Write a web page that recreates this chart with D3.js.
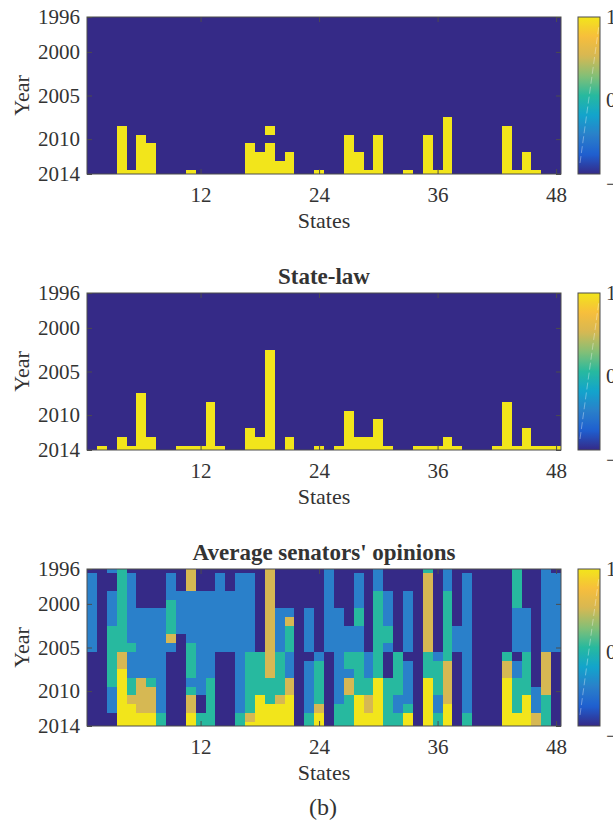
<!DOCTYPE html>
<html>
<head>
<meta charset="utf-8">
<script src="https://cdn.jsdelivr.net/npm/d3@7"></script>
<style>
  html, body { margin: 0; padding: 0; background: #fff; }
  svg { display: block; }
  text { font-family: "Liberation Serif", "Times New Roman", serif; fill: #333; }
</style>
</head>
<body>
<svg id="chart" width="613" height="825"></svg>
<script>
// ---- data -------------------------------------------------------------
const states = d3.range(1, 49);            // state index 1..48
const years = d3.range(1996, 2015);        // 1996..2014
const xTicks = [12, 24, 36, 48];
const yTicks = [1996, 2000, 2005, 2010, 2014];
const colorbarTicks = [-1, 0, 1];

// value of each code character
const binaryLevels = { "0": -1, "1": 1 };
const opinionLevels = { "0": -1, "1": -0.5, "2": 0, "3": 0.5, "4": 1 };

// one string per state, one character per year (1996 -> 2014)
const adoptionCols = [
  "0000000000000000000", "0000000000000000000", "0000000000000000000", "0000000000000111111",
  "0000000000000000001", "0000000000000011111", "0000000000000001111", "0000000000000000000",
  "0000000000000000000", "0000000000000000000", "0000000000000000001", "0000000000000000000",
  "0000000000000000000", "0000000000000000000", "0000000000000000000", "0000000000000000000",
  "0000000000000001111", "0000000000000000111", "0000000000000101111", "0000000000000000011",
  "0000000000000000111", "0000000000000000000", "0000000000000000000", "0000000000000000001",
  "0000000000000000000", "0000000000000000000", "0000000000000011111", "0000000000000000111",
  "0000000000000000001", "0000000000000011111", "0000000000000000000", "0000000000000000000",
  "0000000000000000001", "0000000000000000000", "0000000000000011111", "0000000000000000001",
  "0000000000001111111", "0000000000000000000", "0000000000000000000", "0000000000000000000",
  "0000000000000000000", "0000000000000000000", "0000000000000111111", "0000000000000000001",
  "0000000000000000111", "0000000000000000001", "0000000000000000000", "0000000000000000000"
];

const stateLawCols = [
  "0000000000000000000", "0000000000000000001", "0000000000000000000", "0000000000000000011",
  "0000000000000000001", "0000000000001111111", "0000000000000000011", "0000000000000000000",
  "0000000000000000000", "0000000000000000001", "0000000000000000001", "0000000000000000001",
  "0000000000000111111", "0000000000000000001", "0000000000000000000", "0000000000000000000",
  "0000000000000000111", "0000000000000000011", "0000000111111111111", "0000000000000000000",
  "0000000000000000011", "0000000000000000000", "0000000000000000000", "0000000000000000001",
  "0000000000000000000", "0000000000000000001", "0000000000000011111", "0000000000000000011",
  "0000000000000000011", "0000000000000001111", "0000000000000000001", "0000000000000000000",
  "0000000000000000000", "0000000000000000001", "0000000000000000001", "0000000000000000001",
  "0000000000000000011", "0000000000000000001", "0000000000000000000", "0000000000000000000",
  "0000000000000000000", "0000000000000000001", "0000000000000111111", "0000000000000000001",
  "0000000000000000111", "0000000000000000001", "0000000000000000001", "0000000000000000001"
];

const senatorCols = [
  "0111111111000000000", "0000000000000000000", "1001111222222211100", "2222222222334444444",
  "0111111112111223444", "0000011111111333344", "0000011111111233344", "0000011111111111122",
  "0111222231000000000", "0001111100000000000", "3331111112222123344", "0001111111111110022",
  "0001111111111222222", "0111111111000000000", "0001111111000000000", "0111111111111111122",
  "0111111111222222234", "0000000000222224444", "3333333333333222444", "0000011111222223444",
  "0000013222111334444", "0000000000000000000", "0000011111011111122", "0000000000122222344",
  "1111111111000000000", "0000011111111111222", "0000000111221332222", "0111122111222224444",
  "0000000000111223344", "1112222222222444444", "0001111221000222222", "0000000000222221122",
  "0001111111011111244", "0000000000000000000", "2333333333222444444", "0000000000122221122",
  "1112222222233333444", "0000000111000000000", "0111111111111111122", "0000000000000000000",
  "0000000000000000000", "0000000000000000000", "0000000000233444444", "2222211111011222244",
  "0000011111222224444", "0000000000000011133", "1111111111333332222", "0111111111000000000"
];

const panels = [
  { title: null, cols: adoptionCols, levels: binaryLevels },
  { title: "State-law", cols: stateLawCols, levels: binaryLevels },
  { title: "Average senators' opinions", cols: senatorCols, levels: opinionLevels }
];

// ---- layout -------------------------------------------------------------
const svg = d3.select("#chart");
const left = 87, right = 561, plotH = 157;
const panelTops = [17, 293, 569];
const cbX = 578, cbW = 22;
const tickFont = 21;

// parula-like colormap over [-1, 1]
const parulaStops = ["#352a87", "#1f5fd0", "#2a80ca", "#12a4cc", "#27b99f",
                     "#84bf76", "#d6b853", "#f7be3c", "#f2e51b"];
const color = d3.scaleLinear()
  .domain(d3.range(parulaStops.length).map(i => -1 + 2 * i / (parulaStops.length - 1)))
  .range(parulaStops)
  .interpolate(d3.interpolateRgb);

const x = d3.scaleLinear().domain([0.5, 48.5]).range([left, right]);

const defs = svg.append("defs");
const grad = defs.append("linearGradient").attr("id", "parula")
  .attr("x1", 0).attr("y1", 1).attr("x2", 0).attr("y2", 0);
d3.range(0, 1.0001, 0.02).forEach(t => {
  grad.append("stop").attr("offset", t).attr("stop-color", color(-1 + 2 * t));
});

function styleAxis(g) {
  g.select(".domain").remove();
  g.selectAll(".tick line").attr("stroke", "#4d4d4d").attr("stroke-width", 1);
  g.selectAll(".tick text")
    .attr("font-family", '"Liberation Serif", "Times New Roman", serif')
    .attr("font-size", tickFont).attr("fill", "#333");
  g.attr("font-family", null).attr("font-size", null);
}

panels.forEach((p, pi) => {
  const top = panelTops[pi], bottom = top + plotH;
  const y = d3.scaleLinear().domain([1996, 2014]).range([top, bottom]);
  const g = svg.append("g");

  defs.append("clipPath").attr("id", "clip" + pi)
    .append("rect").attr("x", left).attr("y", top)
    .attr("width", right - left).attr("height", plotH);

  const cells = [];
  p.cols.forEach((col, si) => {
    years.forEach((yr, yi) => {
      cells.push({ state: states[si], year: yr, value: p.levels[col[yi]] });
    });
  });

  g.append("g").attr("clip-path", `url(#clip${pi})`)
    .selectAll("rect").data(cells).join("rect")
    .attr("x", d => x(d.state - 0.5))
    .attr("width", d => x(d.state + 0.5) - x(d.state - 0.5))
    .attr("y", d => y(d.year - 0.5))
    .attr("height", d => y(d.year + 0.5) - y(d.year - 0.5))
    .attr("fill", d => color(d.value))
    .attr("shape-rendering", "crispEdges");

  // ticks on all four sides, pointing inward
  g.append("g").attr("transform", `translate(0,${bottom})`)
    .call(d3.axisBottom(x).tickValues(xTicks).tickSize(-5).tickSizeOuter(0).tickPadding(13))
    .call(styleAxis);
  g.append("g").attr("transform", `translate(0,${top})`)
    .call(d3.axisTop(x).tickValues(xTicks).tickSize(-5).tickSizeOuter(0).tickFormat(""))
    .call(styleAxis);
  g.append("g").attr("transform", `translate(${left},0)`)
    .call(d3.axisLeft(y).tickValues(yTicks).tickSize(-5).tickSizeOuter(0).tickPadding(7)
      .tickFormat(d3.format("d")))
    .call(styleAxis);
  g.append("g").attr("transform", `translate(${right},0)`)
    .call(d3.axisRight(y).tickValues(yTicks).tickSize(-5).tickSizeOuter(0).tickFormat(""))
    .call(styleAxis);

  g.append("rect").attr("x", left).attr("y", top)
    .attr("width", right - left).attr("height", plotH)
    .attr("fill", "none").attr("stroke", "#4d4d4d").attr("stroke-width", 1);

  // axis titles
  g.append("text").attr("x", (left + right) / 2).attr("y", bottom + 54)
    .attr("text-anchor", "middle").attr("font-size", 22).text("States");
  g.append("text")
    .attr("transform", `translate(29,${(top + bottom) / 2}) rotate(-90)`)
    .attr("text-anchor", "middle").attr("font-size", 22).text("Year");

  if (p.title) {
    g.append("text").attr("x", (left + right) / 2).attr("y", top - 9)
      .attr("text-anchor", "middle").attr("font-size", 23).attr("font-weight", "bold")
      .attr("fill", "#111").text(p.title);
  }

  // colorbar
  g.append("rect").attr("x", cbX).attr("y", top).attr("width", cbW).attr("height", plotH)
    .attr("fill", "url(#parula)").attr("stroke", "#4d4d4d").attr("stroke-width", 1);
  g.append("line")
    .attr("x1", cbX + 2).attr("y1", bottom - 11).attr("x2", cbX + cbW - 1).attr("y2", top + 8)
    .attr("stroke", "#fff").attr("stroke-opacity", 0.45).attr("stroke-width", 0.8)
    .attr("stroke-dasharray", "7,3");
  const labelY = d3.scaleLinear().domain([-1, 1]).range([bottom + 10, top]);
  g.selectAll(".cblab").data(colorbarTicks).join("text")
    .attr("class", "cblab")
    .attr("x", 606).attr("y", d => labelY(d)).attr("dy", "0.33em")
    .attr("font-size", tickFont)
    .text(d => d3.format("d")(d));
});

svg.append("text").attr("x", 323).attr("y", 815).attr("text-anchor", "middle")
  .attr("font-size", 24).text("(b)");
</script>
</body>
</html>
